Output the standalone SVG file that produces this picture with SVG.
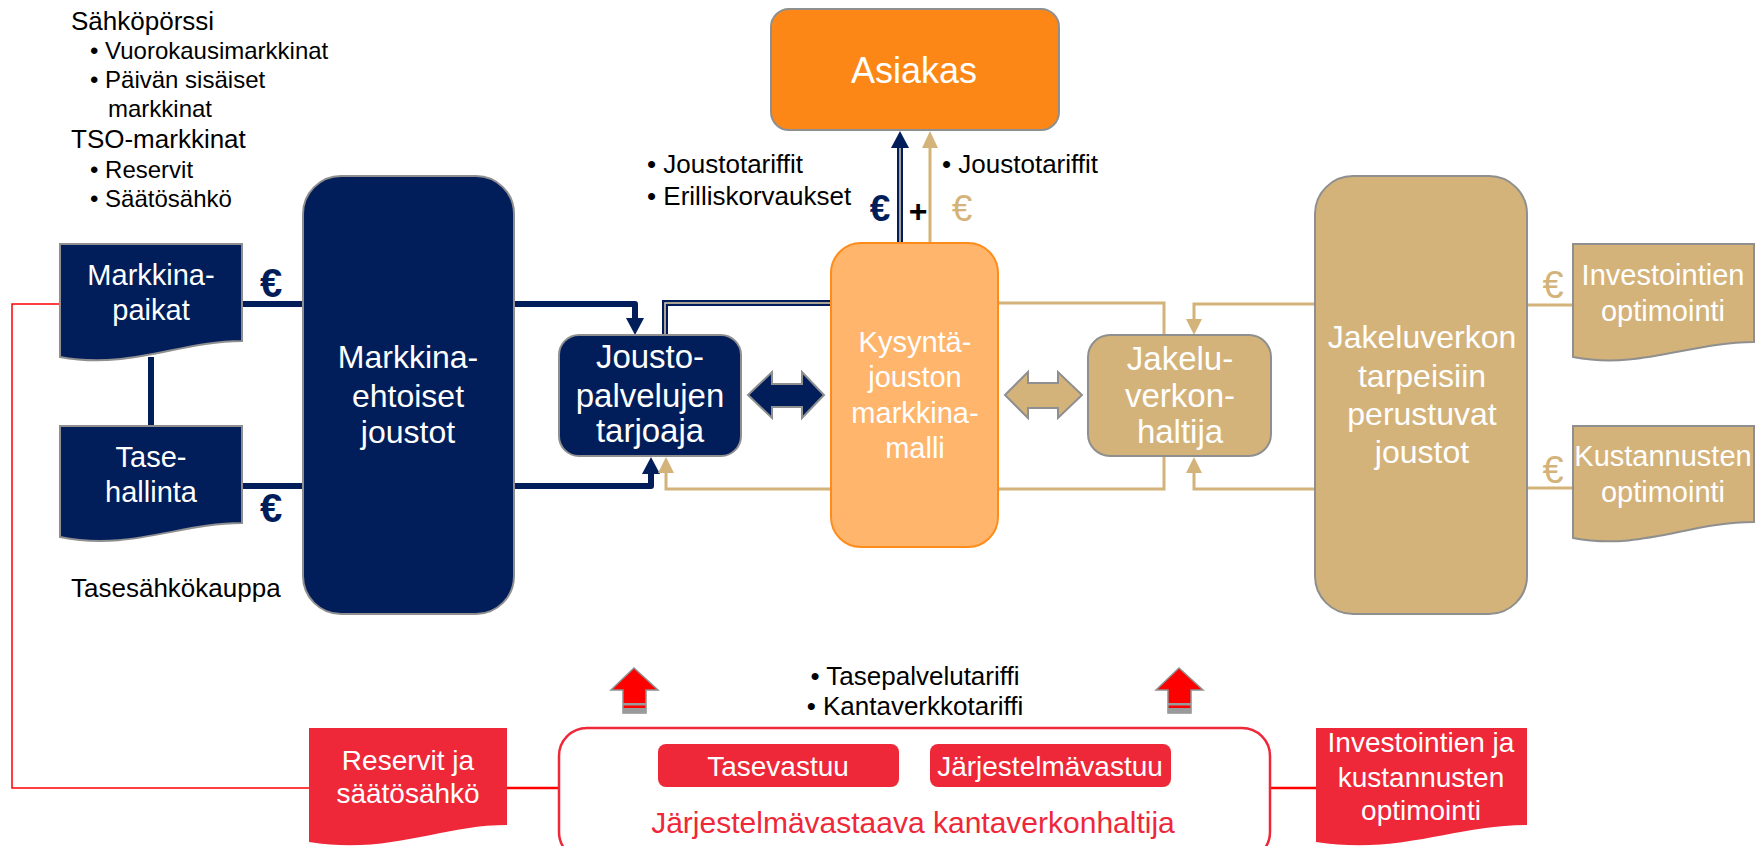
<svg xmlns="http://www.w3.org/2000/svg" width="1758" height="846" viewBox="0 0 1758 846">
<style>
text{font-family:"Liberation Sans",Arial,sans-serif}
.blk{fill:#000}
.h26{font-size:26px}
.b24{font-size:24px}
.w{fill:#fff;text-anchor:middle}
.navyF{fill:#011E5A;stroke:#8F8F8F;stroke-width:2}
.tanF{fill:#D4B37B;stroke:#8F8F8F;stroke-width:2}
.redF{fill:#EE2839}
.navyL{fill:none;stroke:#011E5A;stroke-width:6}
.tanL{fill:none;stroke:#D4B37B;stroke-width:3}
.redL{fill:none;stroke:#FF0000}
.navyH{fill:#011E5A}
.tanH{fill:#D4B37B}
.redA{fill:#FF0000;stroke:#8F8F8F;stroke-width:1.5}
.eur{text-anchor:middle}
</style>

<!-- left labels -->
<g id="labels-left">
<text class="blk h26" x="71" y="30">Sähköpörssi</text>
<text class="blk b24" x="90" y="59">• Vuorokausimarkkinat</text>
<text class="blk b24" x="90" y="88">• Päivän sisäiset</text>
<text class="blk b24" x="108" y="117">markkinat</text>
<text class="blk h26" x="71" y="148">TSO-markkinat</text>
<text class="blk b24" x="90" y="178">• Reservit</text>
<text class="blk b24" x="90" y="207">• Säätösähkö</text>
<text class="blk h26" x="71" y="597">Tasesähkökauppa</text>
</g>

<!-- connectors -->
<g id="connectors">
<path class="redL" stroke-width="1.5" d="M60 304 H12 V788 H309"/>
<path class="redL" stroke-width="2.5" d="M507 788 H559 M1270 788 H1316"/>
<path class="navyL" d="M242 304 H303 M242 486 H303"/>
<path class="navyL" stroke-width="7" d="M151 357 V426"/>
<path class="navyL" stroke-linejoin="round" d="M514 304 H635 V320"/>
<polygon class="navyH" points="626,318 644,318 635,335"/>
<path class="navyL" stroke-linejoin="round" d="M514 486 H651 V472"/>
<polygon class="navyH" points="642,474 660,474 651,457"/>
<path class="tanL" d="M831 489 H666 V472"/>
<polygon class="tanH" points="658,473 674,473 666,457"/>
<path class="navyL" d="M831 303 H665 V335"/>
<path fill="none" stroke="#E3CFAB" stroke-width="1.5" d="M831 303 H665 V335"/>
<!-- to Asiakas -->
<path class="navyL" d="M900 243 V146"/>
<path fill="none" stroke="#E3CFAB" stroke-width="1.5" d="M900 243 V147"/>
<polygon class="navyH" points="891,148 909,148 900,131"/>
<path class="tanL" d="M930 243 V146"/>
<polygon class="tanH" points="922,148 938,148 930,131"/>
<!-- right tan -->
<path class="tanL" d="M998 303 H1164 V335"/>
<path class="tanL" d="M998 489 H1164 V456"/>
<path class="tanL" d="M1315 304 H1194 V320"/>
<polygon class="tanH" points="1186,319 1202,319 1194,335"/>
<path class="tanL" d="M1315 489 H1194 V473"/>
<polygon class="tanH" points="1186,473 1202,473 1194,457"/>
<path class="tanL" d="M1527 305 H1573 M1527 488 H1573"/>
<!-- double arrows -->
<polygon class="navyF" stroke-width="1.5" points="748,395 772,372 772,384 802,384 802,372 824,395 802,418 802,407 772,407 772,418"/>
<polygon class="tanF" stroke-width="1.5" points="1005,395 1028,372 1028,383 1058,383 1058,372 1082,395 1058,418 1058,408 1028,408 1028,418"/>
<!-- red up arrows -->
<polygon class="redA" points="634,668 658,690 646,690 646,713 623,713 623,690 611,690"/>
<rect x="623" y="703" width="23" height="2.5" fill="#9A9A9A"/>
<rect x="623" y="708" width="23" height="5" fill="#9A9A9A"/>
<polygon class="redA" points="1179,668 1203,690 1191,690 1191,713 1168,713 1168,690 1156,690"/>
<rect x="1168" y="703" width="23" height="2.5" fill="#9A9A9A"/>
<rect x="1168" y="708" width="23" height="5" fill="#9A9A9A"/>
<!-- euro signs and plus -->
<text class="eur" x="271" y="297" font-size="40" font-weight="bold" fill="#011E5A">€</text>
<text class="eur" x="271" y="522" font-size="40" font-weight="bold" fill="#011E5A">€</text>
<text class="eur" x="880" y="221" font-size="37" font-weight="bold" fill="#011E5A">€</text>
<text class="eur" x="918" y="222" font-size="32" font-weight="bold" fill="#000">+</text>
<text class="eur" x="962" y="221" font-size="37" fill="#D4B37B">€</text>
<text class="eur" x="1553" y="298" font-size="38" fill="#D4B37B">€</text>
<text class="eur" x="1553" y="483" font-size="38" fill="#D4B37B">€</text>
<!-- connector labels -->
<text class="blk h26" x="647" y="173">• Joustotariffit</text>
<text class="blk h26" x="647" y="205">• Erilliskorvaukset</text>
<text class="blk h26" x="942" y="173">• Joustotariffit</text>
<text class="blk h26" x="915" y="685" text-anchor="middle">• Tasepalvelutariffi</text>
<text class="blk h26" x="915" y="715" text-anchor="middle">• Kantaverkkotariffi</text>
</g>

<g id="asiakas">
<rect x="771" y="9" width="288" height="121" rx="18" fill="#FD8716" stroke="#8F8F8F" stroke-width="2"/>
<text class="w" x="914" y="83" font-size="36">Asiakas</text>
</g>

<g id="markkinapaikat">
<path class="navyF" d="M60 244 H242 V341 C180 341 130 370 60 357 Z"/>
<text class="w" x="151" y="285" font-size="29">Markkina-</text>
<text class="w" x="151" y="320" font-size="29">paikat</text>
</g>

<g id="tasehallinta">
<path class="navyF" d="M60 426 H242 V523 C180 523 130 551 60 537 Z"/>
<text class="w" x="151" y="467" font-size="29">Tase-</text>
<text class="w" x="151" y="502" font-size="29">hallinta</text>
</g>

<g id="markkinaehtoiset">
<rect class="navyF" x="303" y="176" width="211" height="438" rx="38"/>
<text class="w" x="408" y="368" font-size="32">Markkina-</text>
<text class="w" x="408" y="407" font-size="32">ehtoiset</text>
<text class="w" x="408" y="443" font-size="32">joustot</text>
</g>

<g id="joustopalvelu">
<rect class="navyF" x="559" y="335" width="182" height="121" rx="20"/>
<text class="w" x="650" y="368" font-size="33">Jousto-</text>
<text class="w" x="650" y="407" font-size="33">palvelujen</text>
<text class="w" x="650" y="442" font-size="33">tarjoaja</text>
</g>

<g id="kysynta">
<rect x="831" y="243" width="167" height="304" rx="30" fill="#FFB56C" stroke="#FF8C1A" stroke-width="2"/>
<text class="w" x="915" y="352" font-size="29">Kysyntä-</text>
<text class="w" x="915" y="387" font-size="29">jouston</text>
<text class="w" x="915" y="423" font-size="29">markkina-</text>
<text class="w" x="915" y="458" font-size="29">malli</text>
</g>

<g id="jakeluverkonhaltija">
<rect class="tanF" x="1088" y="335" width="183" height="121" rx="22"/>
<text class="w" x="1180" y="370" font-size="33">Jakelu-</text>
<text class="w" x="1180" y="407" font-size="33">verkon-</text>
<text class="w" x="1180" y="443" font-size="33">haltija</text>
</g>

<g id="jakeluverkontarpeet">
<rect class="tanF" x="1315" y="176" width="212" height="438" rx="38"/>
<text class="w" x="1422" y="348" font-size="32">Jakeluverkon</text>
<text class="w" x="1422" y="387" font-size="32">tarpeisiin</text>
<text class="w" x="1422" y="425" font-size="32">perustuvat</text>
<text class="w" x="1422" y="463" font-size="32">joustot</text>
</g>

<g id="investointien">
<path class="tanF" d="M1573 244 H1754 V342 C1690 342 1640 370 1573 357 Z"/>
<text class="w" x="1663" y="285" font-size="29">Investointien</text>
<text class="w" x="1663" y="321" font-size="29">optimointi</text>
</g>

<g id="kustannusten">
<path class="tanF" d="M1573 426 H1754 V522 C1690 522 1640 551 1573 538 Z"/>
<text class="w" x="1663" y="466" font-size="29">Kustannusten</text>
<text class="w" x="1663" y="502" font-size="29">optimointi</text>
</g>

<g id="reservit">
<path class="redF" d="M309 728 H507 V825 C440 825 390 855 309 842 Z"/>
<text class="w" x="408" y="770" font-size="28">Reservit ja</text>
<text class="w" x="408" y="803" font-size="28">säätösähkö</text>
</g>

<g id="kantaverkonhaltija">
<rect x="559" y="728" width="711" height="132" rx="28" fill="#fff" stroke="#EE2839" stroke-width="2.5"/>
<rect class="redF" x="658" y="744" width="241" height="43" rx="8"/>
<text class="w" x="778" y="776" font-size="28">Tasevastuu</text>
<rect class="redF" x="930" y="744" width="241" height="43" rx="8"/>
<text class="w" x="1050" y="776" font-size="28">Järjestelmävastuu</text>
<text x="913" y="833" font-size="30" fill="#EE2839" text-anchor="middle">Järjestelmävastaava kantaverkonhaltija</text>
</g>

<g id="investointienja">
<path class="redF" d="M1316 728 H1527 V825 C1455 825 1400 855 1316 842 Z"/>
<text class="w" x="1421" y="752" font-size="28">Investointien ja</text>
<text class="w" x="1421" y="787" font-size="28">kustannusten</text>
<text class="w" x="1421" y="820" font-size="28">optimointi</text>
</g>
</svg>
